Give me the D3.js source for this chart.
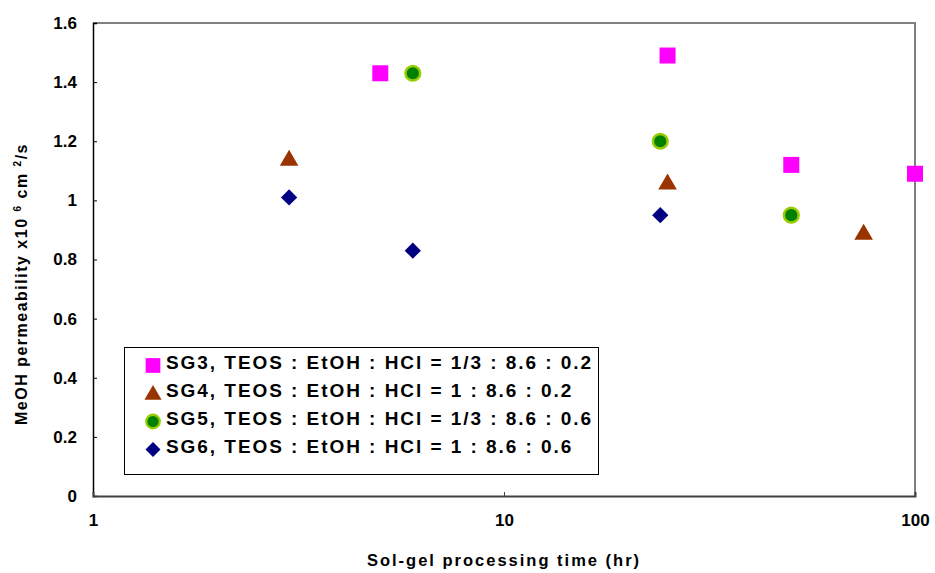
<!DOCTYPE html>
<html>
<head>
<meta charset="utf-8">
<script src="https://cdn.jsdelivr.net/npm/d3@7"></script>
<style>
  html, body { margin: 0; padding: 0; background: #fff; }
  svg { display: block; font-family: "Liberation Sans", Arial, sans-serif; font-weight: bold; }
  text { font-weight: bold; }
</style>
</head>
<body>
<svg id="chart" width="935" height="573"></svg>
<script>
// Processing time (hr) and MeOH permeability (x10^-6 cm^2/s) per sol-gel recipe
const sg3Time = [5, 25, 50, 100];
const sg3Perm = [1.43, 1.49, 1.12, 1.09];
const sg4Time = [3, 25, 75];
const sg4Perm = [1.14, 1.06, 0.89];
const sg5Time = [6, 24, 50];
const sg5Perm = [1.43, 1.20, 0.95];
const sg6Time = [3, 6, 24];
const sg6Perm = [1.01, 0.83, 0.95];

const seriesNames = [
  "SG3, TEOS : EtOH : HCl = 1/3 : 8.6 : 0.2",
  "SG4, TEOS : EtOH : HCl = 1 : 8.6 : 0.2",
  "SG5, TEOS : EtOH : HCl = 1/3 : 8.6 : 0.6",
  "SG6, TEOS : EtOH : HCl = 1 : 8.6 : 0.6"
];
const xTicks = [1, 10, 100];
const yTicks = [0, 0.2, 0.4, 0.6, 0.8, 1, 1.2, 1.4, 1.6];

const series = [
  { name: seriesNames[0], x: sg3Time, y: sg3Perm, shape: "square",   fill: "#FF00FF", stroke: "none" },
  { name: seriesNames[1], x: sg4Time, y: sg4Perm, shape: "triangle", fill: "#993300", stroke: "none" },
  { name: seriesNames[2], x: sg5Time, y: sg5Perm, shape: "circle",   fill: "#008000", stroke: "#99CC00" },
  { name: seriesNames[3], x: sg6Time, y: sg6Perm, shape: "diamond",  fill: "#000080", stroke: "none" }
];

const svg = d3.select("#chart");
const plot = { left: 93, right: 915, top: 23, bottom: 496 };

const x = d3.scaleLog().domain([1, 100]).range([plot.left, plot.right]);
const y = d3.scaleLinear().domain([0, 1.6]).range([plot.bottom, plot.top]);

// frame: top and right edges in gray
svg.append("path")
  .attr("d", `M${plot.left},${plot.top}H${plot.right}V${plot.bottom}`)
  .attr("fill", "none").attr("stroke", "#808080").attr("stroke-width", 2);

// y axis with inward ticks
const yAxis = svg.append("g").attr("transform", `translate(${plot.left},0)`)
  .call(d3.axisLeft(y).tickValues(yTicks).tickSize(-4).tickPadding(16)
    .tickFormat(d => d3.format("")(+d.toFixed(1))));
yAxis.select(".domain").attr("stroke", "#000").attr("stroke-width", 1.5);
yAxis.selectAll(".tick line").attr("stroke", "#000");
yAxis.selectAll(".tick text").attr("font-size", 17).attr("font-weight", "bold")
  .attr("font-family", "Liberation Sans, Arial, sans-serif").attr("fill", "#000");

// x axis with inward ticks
const xAxis = svg.append("g").attr("transform", `translate(0,${plot.bottom})`)
  .call(d3.axisBottom(x).tickValues(xTicks).tickSize(-4).tickPadding(18)
    .tickFormat(d3.format("")));
xAxis.select(".domain").attr("stroke", "#404040").attr("stroke-width", 2);
xAxis.selectAll(".tick line").attr("stroke", "#404040");
xAxis.selectAll(".tick text").attr("font-size", 17).attr("font-weight", "bold")
  .attr("font-family", "Liberation Sans, Arial, sans-serif").attr("fill", "#000");

// axis titles
svg.append("text")
  .attr("x", 504).attr("y", 566)
  .attr("text-anchor", "middle").attr("font-size", 16.5).attr("letter-spacing", 2)
  .text("Sol-gel processing time (hr)");

const yTitle = svg.append("text")
  .attr("transform", "translate(27,284) rotate(-90)")
  .attr("text-anchor", "middle").attr("font-size", 16).attr("letter-spacing", 1.5);
yTitle.append("tspan").text("MeOH permeability x10 ");
yTitle.append("tspan").attr("font-size", 10).attr("dy", -6).text("6");
yTitle.append("tspan").attr("dy", 6).text(" cm ");
yTitle.append("tspan").attr("font-size", 10).attr("dy", -6).text("2");
yTitle.append("tspan").attr("dy", 6).text("/s");

// marker shapes; the diamond is a square turned by 45 degrees
const symbolFor = {
  square: d3.symbol(d3.symbolSquare, 256),
  triangle: d3.symbol(d3.symbolTriangle, 150),
  circle: d3.symbol(d3.symbolCircle, 170),
  diamond: d3.symbol(d3.symbolSquare, 132)
};

function drawMarker(g, s, cx, cy, scale) {
  let extra = "";
  if (s.shape === "triangle") extra = " translate(0,1.5)";
  if (s.shape === "diamond") extra = " rotate(45)";
  g.append("path")
    .attr("d", symbolFor[s.shape]())
    .attr("transform", `translate(${cx},${cy}) scale(${scale})` + extra)
    .attr("fill", s.fill)
    .attr("stroke", s.stroke)
    .attr("stroke-width", s.stroke === "none" ? 0 : 2.5);
}

const marks = svg.append("g");
series.forEach(s => {
  s.x.forEach((t, i) => drawMarker(marks, s, x(t), y(s.y[i]), 1));
});

// legend
const legend = svg.append("g");
legend.append("rect")
  .attr("x", 124.5).attr("y", 347.5).attr("width", 474).attr("height", 127)
  .attr("fill", "#fff").attr("stroke", "#000").attr("stroke-width", 1);
series.forEach((s, i) => {
  const ly = 365.5 + i * 28;
  drawMarker(legend, s, 153, ly, 0.92);
  legend.append("text")
    .attr("x", 166).attr("y", ly + 3.5)
    .attr("font-size", 19).attr("letter-spacing", 1.95)
    .text(s.name);
});
</script>
</body>
</html>
